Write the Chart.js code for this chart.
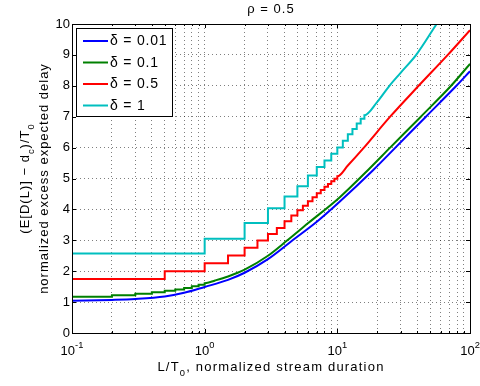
<!DOCTYPE html>
<html>
<head>
<meta charset="utf-8">
<script src="https://cdn.jsdelivr.net/npm/chart.js@4.4.1/dist/chart.umd.min.js"></script>
<style>
  html, body { margin: 0; padding: 0; background: #fff; }
</style>
</head>
<body>
<canvas id="chart" width="480" height="386"></canvas>
<script>
// Excess expected delay vs normalized stream duration, rho = 0.5.
// Values. Staircase parts are kept as
// (start x, level) pairs; the smoother tails as plain (x, y) points.
const FONT = '"Liberation Sans", Arial, Helvetica, sans-serif';
const GRID = 'rgba(0,0,0,0.5)';

const seriesLabels = ['δ = 0.01', 'δ = 0.1', 'δ = 0.5', 'δ = 1'];
const seriesColors = ['#0000ff', '#008000', '#ff0000', '#00bfbf'];

const xDecades = [0.1, 1, 10, 100];
const xDecadeExponents = ['-1', '0', '1', '2'];
const yTickValues = [0, 1, 2, 3, 4, 5, 6, 7, 8, 9, 10];

// delta = 0.01 (smooth)
const blueStepX = [];
const blueStepY = [];
const blueCurveX = [0.1, 0.2, 0.3, 0.5, 0.7, 1, 1.5, 2, 3, 4.6, 7, 10.35, 18.5, 27.4, 46.5, 79, 100];
const blueCurveY = [1.04, 1.07, 1.10, 1.18, 1.30, 1.49, 1.72, 1.95, 2.39, 3.0, 3.6, 4.24, 5.26, 6.0, 7.0, 8.0, 8.47];

// delta = 0.1 (small steps every 0.1)
const greenStepX = [0.1, 0.2, 0.3, 0.4, 0.5, 0.6, 0.7, 0.8, 0.9, 1.0];
const greenStepY = [1.17, 1.22, 1.27, 1.32, 1.37, 1.41, 1.46, 1.51, 1.56, 1.61];
const greenCurveX = [1.2, 1.5, 2, 3, 4.2, 6, 10.35, 16.9, 25, 42.6, 72, 100];
const greenCurveY = [1.70, 1.83, 2.05, 2.50, 3.0, 3.55, 4.38, 5.26, 6.0, 7.0, 8.0, 8.71];

// delta = 0.5 (steps every 0.5)
const redStepX = [0.1, 0.5, 1, 1.5, 2, 2.5, 3, 3.5, 4, 4.5, 5, 5.5, 6, 6.5, 7, 7.5, 8, 8.5, 9, 9.5, 10];
const redStepY = [1.75, 2.00, 2.26, 2.51, 2.76, 2.99, 3.20, 3.40, 3.62, 3.80, 3.97, 4.12, 4.26, 4.39, 4.52, 4.63, 4.73, 4.82, 4.91, 4.99, 5.07];
const redCurveX = [12, 15.5, 25, 41, 68, 100];
const redCurveY = [5.42, 5.95, 7.0, 8.0, 9.0, 9.8];

// delta = 1 (steps every 1)
const cyanStepX = [0.1, 1, 2, 3, 4, 5, 6, 7, 8, 9, 10, 11, 12, 13, 14, 15, 16];
const cyanStepY = [2.57, 3.05, 3.56, 4.04, 4.42, 4.75, 5.10, 5.37, 5.58, 5.80, 6.0, 6.22, 6.43, 6.60, 6.78, 6.93, 7.05];
const cyanCurveX = [20, 24.7, 30, 39.3, 56];
const cyanCurveY = [7.48, 8.0, 8.42, 9.0, 10.0];

// grid at 1..9 x each decade, like a log axis usually shows
const xGridValues = [];
for (let d = 0; d < xDecades.length - 1; d++) {
    for (let m = 1; m <= 9; m++) xGridValues.push(+(m * xDecades[d]).toPrecision(3));
}
xGridValues.push(xDecades[xDecades.length - 1]);

function buildPoints(stepX, stepY, curveX, curveY) {
    const pts = [];
    for (let i = 0; i < stepX.length; i++) {
        pts.push({ x: stepX[i], y: stepY[i] });
        if (i + 1 < stepX.length) pts.push({ x: stepX[i + 1], y: stepY[i] });
    }
    for (let i = 0; i < curveX.length; i++) pts.push({ x: curveX[i], y: curveY[i] });
    return pts;
}

const seriesPoints = [
    buildPoints(blueStepX, blueStepY, blueCurveX, blueCurveY),
    buildPoints(greenStepX, greenStepY, greenCurveX, greenCurveY),
    buildPoints(redStepX, redStepY, redCurveX, redCurveY),
    buildPoints(cyanStepX, cyanStepY, cyanCurveX, cyanCurveY),
];

function setFont(ctx, size) {
    ctx.font = `${size}px ${FONT}`;
}

// parts: [text, mode] with mode '', 'sub' or 'sup'
function richWidth(ctx, parts, size) {
    let w = 0;
    for (const [t, mode] of parts) {
        setFont(ctx, mode ? size * 0.72 : size);
        w += ctx.measureText(t).width;
    }
    return w;
}

function drawRich(ctx, parts, x, y, size, align) {
    const total = richWidth(ctx, parts, size);
    let cx = align === 'center' ? x - total / 2 : align === 'right' ? x - total : x;
    ctx.textAlign = 'left';
    ctx.textBaseline = 'alphabetic';
    for (const [t, mode] of parts) {
        setFont(ctx, mode ? size * 0.72 : size);
        const dy = mode === 'sub' ? size * 0.38 : mode === 'sup' ? -size * 0.5 : 0;
        ctx.fillText(t, cx, y + dy);
        cx += ctx.measureText(t).width;
    }
}

const framePlugin = {
    id: 'frame',
    afterDraw(chart) {
        const ctx = chart.ctx;
        const a = chart.chartArea;
        const xs = chart.scales.x;
        const ys = chart.scales.y;
        ctx.save();
        ctx.fillStyle = '#000';
        ctx.strokeStyle = '#000';

        // inside tick marks
        ctx.lineWidth = 1;
        ctx.beginPath();
        for (const v of yTickValues) {
            const py = Math.round(ys.getPixelForValue(v)) + 0.5;
            ctx.moveTo(a.left, py); ctx.lineTo(a.left + 4, py);
            ctx.moveTo(a.right, py); ctx.lineTo(a.right - 4, py);
        }
        for (const v of xGridValues) {
            const px = Math.round(xs.getPixelForValue(v)) + 0.5;
            const len = xDecades.includes(v) ? 4 : 2;
            ctx.moveTo(px, a.bottom); ctx.lineTo(px, a.bottom - len);
            ctx.moveTo(px, a.top); ctx.lineTo(px, a.top + len);
        }
        ctx.stroke();

        // axes box
        ctx.strokeRect(Math.round(a.left) + 0.5, Math.round(a.top) + 0.5,
            Math.round(a.right - a.left), Math.round(a.bottom - a.top));

        ctx.letterSpacing = '0px';
        // x decade labels 10^n
        xDecades.forEach((v, i) => {
            const px = xs.getPixelForValue(v);
            drawRich(ctx, [['10', ''], [xDecadeExponents[i], 'sup']], px, 354.5, 13, 'center');
        });

        ctx.letterSpacing = '1px';
        // title
        drawRich(ctx, [['ρ = 0.5', '']], (a.left + a.right) / 2, 12.5, 13, 'center');

        // x axis title
        ctx.letterSpacing = '1.2px';
        drawRich(ctx, [['L/T', ''], ['0', 'sub'], [', normalized stream duration', '']],
            (a.left + a.right) / 2, 371, 13, 'center');

        // y axis title, two lines, rotated
        ctx.letterSpacing = '1px';
        const cy = (a.top + a.bottom) / 2;
        ctx.save();
        ctx.translate(29, cy);
        ctx.rotate(-Math.PI / 2);
        drawRich(ctx, [['(E[D(L)] − d', ''], ['c', 'sub'], [')/T', ''], ['0', 'sub']], 0, 0, 13, 'center');
        ctx.restore();
        ctx.save();
        ctx.translate(47.5, cy);
        ctx.rotate(-Math.PI / 2);
        drawRich(ctx, [['normalized excess expected delay', '']], 0, 0, 13, 'center');
        ctx.restore();

        // legend box
        const lx = 76, ly = 28, lw = 96, lh = 88;
        ctx.fillStyle = '#fff';
        ctx.fillRect(lx, ly, lw, lh);
        ctx.strokeStyle = '#000';
        ctx.lineWidth = 1;
        ctx.strokeRect(lx + 0.5, ly + 0.5, lw, lh);
        ctx.letterSpacing = '0.8px';
        seriesLabels.forEach((label, i) => {
            const ry = 41 + i * 21.5;
            ctx.strokeStyle = seriesColors[i];
            ctx.lineWidth = 2;
            ctx.beginPath();
            ctx.moveTo(83, ry); ctx.lineTo(108, ry);
            ctx.stroke();
            ctx.fillStyle = '#000';
            setFont(ctx, 14);
            ctx.textAlign = 'left';
            ctx.textBaseline = 'middle';
            ctx.fillText(label, 110, ry + 0.5);
        });
        ctx.restore();
    },
};

new Chart(document.getElementById('chart'), {
    type: 'line',
    data: {
        datasets: seriesLabels.map((label, i) => ({
            label,
            data: seriesPoints[i],
            borderColor: seriesColors[i],
            backgroundColor: seriesColors[i],
            borderWidth: 2,
            pointRadius: 0,
            cubicInterpolationMode: 'monotone',
            fill: false,
            order: seriesLabels.length - i,
        })),
    },
    options: {
        responsive: false,
        animation: false,
        events: [],
        layout: { padding: { top: 24, right: 10, left: 0, bottom: 0 } },
        plugins: { legend: { display: false }, tooltip: { enabled: false }, title: { display: false } },
        scales: {
            x: {
                type: 'logarithmic',
                min: 0.1,
                max: 100,
                afterBuildTicks: (s) => { s.ticks = xGridValues.map((v) => ({ value: v })); },
                afterFit: (s) => { s.height = 53; },
                ticks: { display: false },
                grid: { color: GRID, drawTicks: false, lineWidth: 1 },
                border: { display: false, dash: [1, 3] },
            },
            y: {
                min: 0,
                max: 10,
                afterBuildTicks: (s) => { s.ticks = yTickValues.map((v) => ({ value: v })); },
                afterFit: (s) => { s.width = 72; },
                ticks: { color: '#000', padding: 2, font: { family: FONT, size: 13 } },
                grid: { color: GRID, drawTicks: false, lineWidth: 1 },
                border: { display: false, dash: [1, 3] },
            },
        },
    },
    plugins: [framePlugin],
});
</script>
</body>
</html>
